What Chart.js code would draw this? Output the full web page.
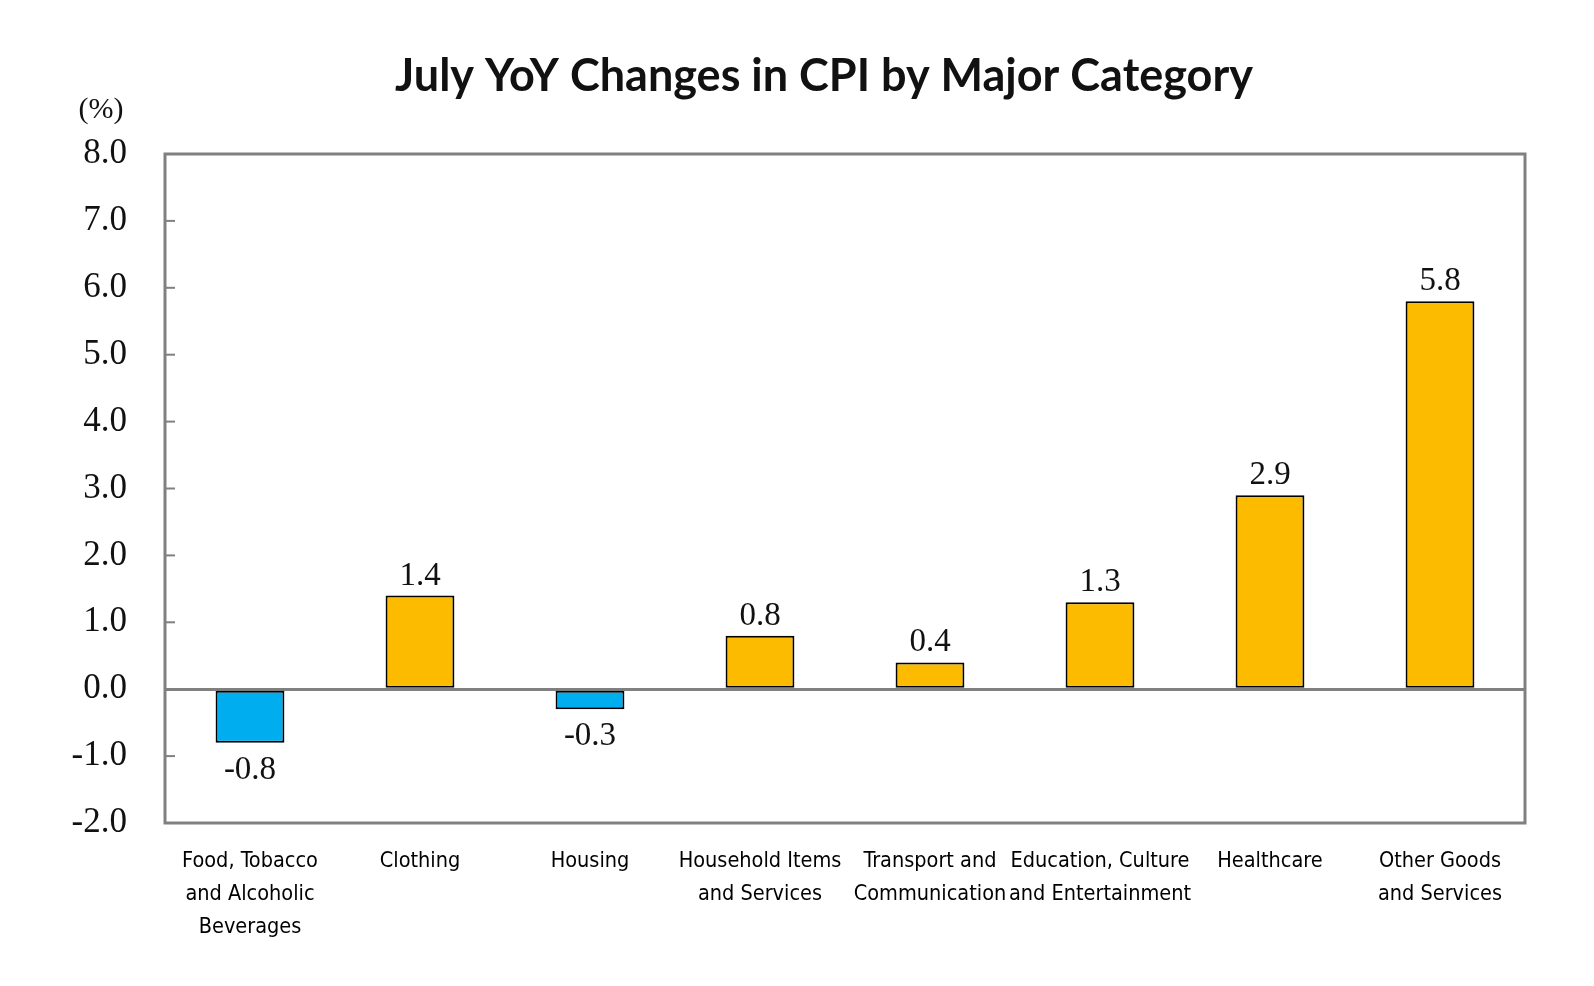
<!DOCTYPE html>
<html>
<head>
<meta charset="utf-8">
<title>July YoY Changes in CPI by Major Category</title>
<script src="https://cdn.jsdelivr.net/npm/chart.js@4.4.1/dist/chart.umd.min.js"></script>
<style>
    html, body { margin: 0; padding: 0; background: #ffffff; }
    canvas { display: block; }
</style>
</head>
<body>
<canvas id="cpiChart" width="1594" height="986"></canvas>
<script>
// categories (multi-line labels) and YoY change values, %
const categories = [
    ["Food, Tobacco", "and Alcoholic", "Beverages"],
    ["Clothing"],
    ["Housing"],
    ["Household Items", "and Services"],
    ["Transport and", "Communication"],
    ["Education, Culture", "and Entertainment"],
    ["Healthcare"],
    ["Other Goods", "and Services"]
];
const yoyValues = [-0.8, 1.4, -0.3, 0.8, 0.4, 1.3, 2.9, 5.8];

const yMin = -2;
const yMax = 8;
const yStep = 1;

const titleText = "July YoY Changes in CPI by Major Category";
const unitText = "(%)";

const POS_COLOR = '#FDBB00';
const NEG_COLOR = '#00AEEF';
const FRAME_COLOR = '#808080';
const SERIF = "'Liberation Serif', 'Times New Roman', serif";
const NARROW = "'Liberation Sans Narrow', 'DejaVu Sans Condensed', 'Roboto', sans-serif";

// frame round the plot, inner ticks on the left axis, title and "(%)" unit
const framePlugin = {
    id: 'frame',
    beforeDatasetsDraw(chart) {
        const {ctx, chartArea} = chart;
        const yScale = chart.scales.y;
        ctx.save();
        ctx.strokeStyle = FRAME_COLOR;
        ctx.lineWidth = 2;
        yScale.ticks.forEach(t => {
            if (t.value <= yMin || t.value >= yMax) return;
            const py = yScale.getPixelForValue(t.value);
            ctx.beginPath();
            ctx.moveTo(chartArea.left, py);
            ctx.lineTo(chartArea.left + 10, py);
            ctx.stroke();
        });
        ctx.restore();
    },
    afterDatasetsDraw(chart) {
        const {ctx, chartArea} = chart;
        ctx.save();
        ctx.strokeStyle = FRAME_COLOR;
        ctx.lineWidth = 3;
        ctx.strokeRect(chartArea.left, chartArea.top,
            chartArea.right - chartArea.left, chartArea.bottom - chartArea.top);

        ctx.fillStyle = '#111';
        ctx.textAlign = 'center';
        ctx.textBaseline = 'middle';
        ctx.font = "bold 45px Lato, 'Open Sans', sans-serif";
        ctx.fillText(titleText, 824, 76);

        ctx.font = "30px " + SERIF;
        ctx.fillText(unitText, chartArea.left - 64, chartArea.top - 44);
        ctx.restore();
    }
};

// value labels above positive bars, below negative ones
const valueLabelPlugin = {
    id: 'valueLabels',
    afterDatasetsDraw(chart) {
        const {ctx} = chart;
        const meta = chart.getDatasetMeta(0);
        ctx.save();
        ctx.fillStyle = '#111';
        ctx.font = "33px " + SERIF;
        ctx.textAlign = 'center';
        ctx.textBaseline = 'alphabetic';
        meta.data.forEach((bar, i) => {
            const v = yoyValues[i];
            const ty = v >= 0 ? bar.y - 11 : bar.y + 36;
            ctx.fillText(v.toFixed(1), bar.x, ty);
        });
        ctx.restore();
    }
};

const ctx = document.getElementById('cpiChart').getContext('2d');

const chart = new Chart(ctx, {
    type: 'bar',
    data: {
        labels: categories,
        datasets: [{
            label: 'YoY',
            data: yoyValues,
            backgroundColor: yoyValues.map(v => v < 0 ? NEG_COLOR : POS_COLOR),
            borderColor: '#000',
            borderWidth: 2,
            borderSkipped: false,
            barPercentage: 0.405,
            categoryPercentage: 1.0
        }]
    },
    options: {
        responsive: false,
        animation: false,
        devicePixelRatio: 1,
        layout: {padding: {left: 0, right: 69, top: 154, bottom: 0}},
        plugins: {
            legend: {display: false},
            tooltip: {enabled: false},
            title: {display: false}
        },
        scales: {
            x: {
                grid: {display: false, drawTicks: false},
                border: {display: false},
                ticks: {
                    color: '#000',
                    font: {family: NARROW, size: 21.5, lineHeight: 1.54},
                    padding: 22,
                    maxRotation: 0,
                    autoSkip: false
                },
                afterFit(scale) { scale.height = 163; }
            },
            y: {
                min: yMin,
                max: yMax,
                grid: {
                    drawTicks: false,
                    color: c => c.tick.value === 0 ? FRAME_COLOR : 'rgba(0,0,0,0)',
                    lineWidth: c => c.tick.value === 0 ? 3 : 0
                },
                border: {display: false},
                ticks: {
                    stepSize: yStep,
                    color: '#111',
                    font: {family: SERIF, size: 35},
                    padding: 38,
                    callback: v => v.toFixed(1)
                },
                afterFit(scale) { scale.width = 165; }
            }
        }
    },
    plugins: [framePlugin, valueLabelPlugin]
});
</script>
</body>
</html>
